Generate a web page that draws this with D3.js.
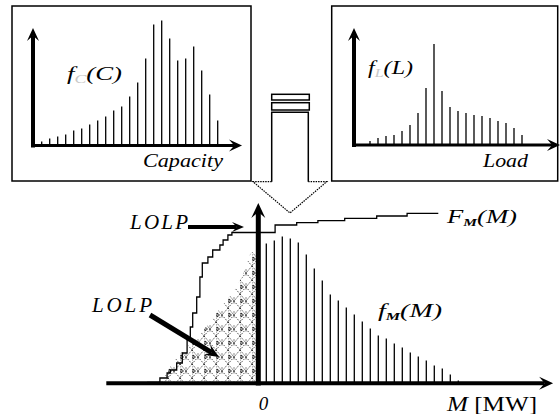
<!DOCTYPE html>
<html>
<head>
<meta charset="utf-8">
<script src="https://cdn.jsdelivr.net/npm/d3@7"></script>
<style>
  body { margin: 0; background: #fff; }
  svg { display: block; }
</style>
</head>
<body>
<div id="chart"></div>
<script>
// capacity distribution f_C(C), one bar per capacity state
const capProb = [0.4, 0.7, 0.9, 1.1, 1.5, 1.7, 2.1, 2.5, 2.9, 3.5, 3.9, 4.9, 6.3, 8.7, 12.1, 12.5, 10.7, 8.5, 8.7, 9.9, 7.5, 5.1, 2.5];
// load distribution f_L(L)
const loadProb = [0.4, 0.7, 0.9, 1.0, 1.4, 2.0, 3.2, 5.7, 10.1, 5.4, 3.8, 3.4, 3.2, 3.0, 2.9, 2.7, 2.4, 2.2, 1.7, 1.0];
// margin distribution f_M(M) for M > 0
const marginM = [1, 2, 3, 4, 5, 6, 7, 8, 9, 10, 11, 12, 13, 14, 15, 16, 17, 18, 19, 20, 21, 22, 23, 24, 25];
const marginProb = [13.9, 14.2, 14.6, 14.4, 14.0, 12.8, 11.4, 10.2, 8.8, 8.2, 7.5, 6.8, 6.1, 5.4, 4.7, 4.4, 3.9, 3.5, 3.0, 2.6, 2.2, 1.7, 1.4, 0.8, 0.2];
// negative margin (loss of load) envelope
const lossM = [-13, -12, -11, -10, -9, -8, -7, -6, -5, -4, -3, -2, -1, 0];
const lossProb = [0, 0.2, 1.6, 2.7, 3.5, 4.2, 5.1, 6.1, 7.2, 8.2, 9.2, 10.6, 12.9, 13.3];
// cumulative F_M(M)
const cdfM = [-13.9, -12.3, -11.4, -11.0, -10.2, -9.5, -8.9, -8.5, -8.2, -7.7, -7.3, -7.0, -6.3, -5.7, -4.8, -4.4, -3.8, -3.3, 2.1, 4.8, 7.45, 10.8, 14.8, 18.6, 22.5];
const cdfF = [0, 0.45, 0.95, 1.25, 1.95, 2.95, 4.25, 5.55, 6.95, 8.55, 10.55, 11.95, 12.55, 13.25, 13.75, 14.25, 14.75, 15.0, 15.75, 15.98, 16.18, 16.42, 16.65, 16.92, 16.92];

const width = 560;
const height = 414;
const serif = "'Liberation Serif', 'DejaVu Serif', serif";

const svg = d3.select("#chart").append("svg")
    .attr("width", width)
    .attr("height", height);

const defs = svg.append("defs");
const hatch = defs.append("pattern")
    .attr("id", "hatch")
    .attr("patternUnits", "userSpaceOnUse")
    .attr("width", 12)
    .attr("height", 14);
hatch.append("rect").attr("width", 12).attr("height", 14).attr("fill", "#fff");
hatch.append("path")
    .attr("d", "M0,0L12,14M12,0L0,14M6,3.5L6,10.5M0,0L0,14")
    .attr("stroke", "#000")
    .attr("stroke-width", 0.9)
    .attr("stroke-dasharray", "1 1.4")
    .attr("fill", "none");
hatch.append("path")
    .attr("d", "M1,5L3.5,7L1,9Z")
    .attr("stroke", "#000")
    .attr("stroke-width", 0.8)
    .attr("fill", "none");

function arrow(g, x1, y1, x2, y2, w, hl, hw) {
    const a = Math.atan2(y2 - y1, x2 - x1);
    const c = Math.cos(a), s = Math.sin(a);
    const pt = (l, q) => [x2 - l * c - q * s, y2 - l * s + q * c];
    const base = pt(hl * 0.6, 0);
    g.append("line")
        .attr("x1", x1).attr("y1", y1)
        .attr("x2", base[0]).attr("y2", base[1])
        .attr("stroke", "#000")
        .attr("stroke-width", w);
    g.append("path")
        .attr("d", d3.line()([[x2, y2], pt(hl, hw / 2), pt(hl * 0.6, 0), pt(hl, -hw / 2)]) + "Z")
        .attr("fill", "#000");
}

// ---- top left: capacity
const boxC = svg.append("g");
boxC.append("rect")
    .attr("x", 12).attr("y", 6).attr("width", 239).attr("height", 175)
    .attr("fill", "none").attr("stroke", "#000").attr("stroke-width", 1.5);

const xC = d3.scaleLinear().domain([0, 23]).range([33.7, 217.7]);
const yC = d3.scaleLinear().domain([0, 12.5]).range([145.5, 20.5]);

boxC.selectAll(".bar")
    .data(capProb)
    .join("line")
    .attr("class", "bar")
    .attr("x1", (d, i) => xC(i + 1)).attr("x2", (d, i) => xC(i + 1))
    .attr("y1", yC(0)).attr("y2", d => yC(d))
    .attr("stroke", "#000").attr("stroke-width", 1.3);

arrow(boxC, xC(0) - 0.7, yC(0) + 2, xC(0) - 0.7, yC(11.75), 4, 13, 12);
arrow(boxC, xC(0) - 2, yC(0), xC(26.04), yC(0), 3, 13, 12);

const tC = boxC.append("text")
    .attr("x", 67).attr("y", 80)
    .attr("font-family", serif).attr("font-style", "italic").attr("font-size", 18)
    .attr("textLength", 55).attr("lengthAdjust", "spacingAndGlyphs");
tC.append("tspan").text("f");
tC.append("tspan").attr("dy", 3).attr("font-size", 12).attr("fill", "#c8c8c8").text("C");
tC.append("tspan").attr("dy", -3).text("(C)");

boxC.append("text")
    .attr("x", 143).attr("y", 167)
    .attr("font-family", serif).attr("font-style", "italic").attr("font-size", 18)
    .attr("textLength", 80).attr("lengthAdjust", "spacingAndGlyphs")
    .text("Capacity");

// ---- top right: load
const boxL = svg.append("g");
boxL.append("rect")
    .attr("x", 331.7).attr("y", 6).attr("width", 226).attr("height", 175)
    .attr("fill", "none").attr("stroke", "#000").attr("stroke-width", 1.5);

const xL = d3.scaleLinear().domain([0, 20]).range([362, 522]);
const yL = d3.scaleLinear().domain([0, 10]).range([145, 45]);

boxL.selectAll(".bar")
    .data(loadProb)
    .join("line")
    .attr("class", "bar")
    .attr("x1", (d, i) => xL(i + 1)).attr("x2", (d, i) => xL(i + 1))
    .attr("y1", yL(0)).attr("y2", d => yL(d))
    .attr("stroke", "#000").attr("stroke-width", 1.3);

arrow(boxL, xL(-1), yL(0) + 2, xL(-1), 28, 4, 13, 12);
arrow(boxL, xL(-1) - 2, yL(0), 560, yL(0), 3, 13, 12);

const tL = boxL.append("text")
    .attr("x", 368).attr("y", 74)
    .attr("font-family", serif).attr("font-style", "italic").attr("font-size", 18)
    .attr("textLength", 45).attr("lengthAdjust", "spacingAndGlyphs");
tL.append("tspan").text("f");
tL.append("tspan").attr("dy", 3).attr("font-size", 12).attr("fill", "#c8c8c8").text("L");
tL.append("tspan").attr("dy", -3).text("(L)");

boxL.append("text")
    .attr("x", 483).attr("y", 167)
    .attr("font-family", serif).attr("font-style", "italic").attr("font-size", 18)
    .attr("textLength", 45).attr("lengthAdjust", "spacingAndGlyphs")
    .text("Load");

// ---- hollow arrow (convolution)
const conv = svg.append("g");
[[94.3, 100], [102.7, 110]].forEach(([y0, y1]) => {
    conv.append("rect")
        .attr("x", 271.7).attr("y", y0).attr("width", 37.6).attr("height", y1 - y0)
        .attr("fill", "#fff").attr("stroke", "#000").attr("stroke-width", 1.5);
});
conv.append("path")
    .attr("d", "M271.7,181.7L271.7,112.3L308.3,112.3L308.3,181.7")
    .attr("fill", "none").attr("stroke", "#000").attr("stroke-width", 1.5);
conv.append("path")
    .attr("d", "M271.7,181.7L253,181.7L290,213L326.7,181.7L308.3,181.7")
    .attr("fill", "none").attr("stroke", "#000").attr("stroke-width", 1.2)
    .attr("stroke-dasharray", "1.5 1");

// ---- main: margin
const main = svg.append("g");
const xM = d3.scaleLinear().domain([0, 25]).range([258.3, 458.3]);
const yM = d3.scaleLinear().domain([0, 18]).range([382.5, 202.5]);

main.append("path")
    .datum(lossM.map((m, i) => [m, lossProb[i]]))
    .attr("d", d3.area()
        .x(d => xM(d[0]))
        .y0(yM(0))
        .y1(d => yM(d[1])))
    .attr("fill", "url(#hatch)");

main.selectAll(".bar")
    .data(marginProb)
    .join("line")
    .attr("class", "bar")
    .attr("x1", (d, i) => xM(marginM[i])).attr("x2", (d, i) => xM(marginM[i]))
    .attr("y1", yM(0)).attr("y2", d => yM(d))
    .attr("stroke", "#000").attr("stroke-width", 1.3);

main.append("path")
    .datum(cdfM.map((m, i) => [m, cdfF[i]]))
    .attr("d", d3.line()
        .x(d => xM(d[0]))
        .y(d => yM(d[1]))
        .curve(d3.curveStepAfter))
    .attr("fill", "none").attr("stroke", "#000").attr("stroke-width", 1.3);

arrow(main, xM(0), yM(0) + 3, xM(0), yM(17.95), 5, 15, 14);
arrow(main, xM(-19), yM(-0.08), xM(36.85), yM(-0.08), 4, 14, 13);

const tF = main.append("text")
    .attr("x", 447).attr("y", 223)
    .attr("font-family", serif).attr("font-style", "italic").attr("font-size", 19)
    .attr("textLength", 70).attr("lengthAdjust", "spacingAndGlyphs");
tF.append("tspan").text("F");
tF.append("tspan").attr("dy", 3).attr("font-size", 11).attr("font-weight", "bold").text("M");
tF.append("tspan").attr("dy", -3).text("(M)");

const tf = main.append("text")
    .attr("x", 378).attr("y", 317)
    .attr("font-family", serif).attr("font-style", "italic").attr("font-size", 19)
    .attr("textLength", 64).attr("lengthAdjust", "spacingAndGlyphs");
tf.append("tspan").text("f");
tf.append("tspan").attr("dy", 3).attr("font-size", 11).attr("font-weight", "bold").text("M");
tf.append("tspan").attr("dy", -3).text("(M)");

main.append("text")
    .attr("x", 263.5).attr("y", 410)
    .attr("text-anchor", "middle")
    .attr("font-family", serif).attr("font-style", "italic").attr("font-size", 19)
    .text("0");

const tM = main.append("text")
    .attr("x", 447).attr("y", 411)
    .attr("font-family", serif).attr("font-size", 20)
    .attr("textLength", 90).attr("lengthAdjust", "spacingAndGlyphs");
tM.append("tspan").attr("font-style", "italic").text("M");
tM.append("tspan").text(" [MW]");

// LOLP labels
main.append("text")
    .attr("x", 130).attr("y", 229)
    .attr("font-family", serif).attr("font-style", "italic").attr("font-size", 21)
    .attr("textLength", 58).attr("lengthAdjust", "spacing")
    .text("LOLP");
arrow(main, 188, 227, 244, 227, 4, 12, 10);

main.append("text")
    .attr("x", 92).attr("y", 312)
    .attr("font-family", serif).attr("font-style", "italic").attr("font-size", 21)
    .attr("textLength", 60).attr("lengthAdjust", "spacing")
    .text("LOLP");
arrow(main, 150, 315, 219, 357, 5, 14, 12);
</script>
</body>
</html>
